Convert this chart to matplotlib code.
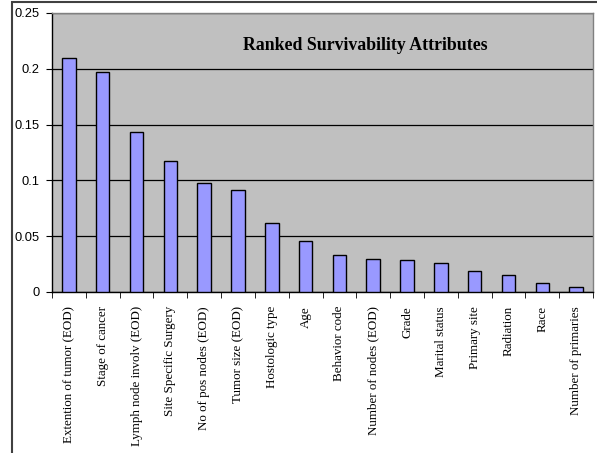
import numpy as np
import matplotlib
matplotlib.use("Agg")
import matplotlib.pyplot as plt
from matplotlib.patches import Rectangle
from matplotlib.ticker import FixedLocator

attributes = ["Extention of tumor (EOD)", "Stage of cancer", "Lymph node involv (EOD)",
              "Site Specific Surgery", "No of pos nodes (EOD)", "Tumor size (EOD)",
              "Hostologic type", "Age", "Behavior code", "Number of nodes (EOD)",
              "Grade", "Marital status", "Primary site", "Radiation", "Race",
              "Number of primaries"]
scores = [0.210, 0.197, 0.143, 0.117, 0.0975, 0.0918, 0.0615, 0.0455,
          0.0332, 0.0296, 0.0284, 0.0257, 0.0191, 0.0152, 0.0083, 0.0042]
yticks = [0, 0.05, 0.1, 0.15, 0.2, 0.25]
yticklabels = ["0", "0.05", "0.1", "0.15", "0.2", "0.25"]
title = "Ranked Survivability Attributes"


def main():
    fig = plt.figure(figsize=(5.97, 4.53), dpi=100)
    W, H = 597, 453

    # outer chart frame (only left and top visible in the crop)
    fig.patches.append(Rectangle((12 / W, -0.1), 1.2, 1 - 1.5 / H + 0.1,
                                 transform=fig.transFigure, fill=False,
                                 edgecolor="#404040", linewidth=1.5))

    ax = fig.add_axes([52 / W, (H - 292) / H, (593 - 52) / W, (292 - 13) / H])
    ax.set_facecolor("#C0C0C0")

    x = np.arange(len(scores))
    ax.bar(x, scores, width=0.4, color="#9999FF", edgecolor="black", linewidth=1.0, zorder=3)

    ax.set_xlim(-0.5, len(scores) - 0.5)
    ax.set_ylim(0, 0.25)
    ax.set_yticks(yticks)
    ax.set_yticklabels(yticklabels, fontfamily="Liberation Sans", fontsize=9.3)
    ax.grid(axis="y", color="black", linewidth=0.9, zorder=1)
    ax.set_axisbelow(True)

    ax.set_xticks(x)
    ax.set_xticklabels(attributes, rotation=90, fontfamily="Liberation Serif", fontsize=9.4,
                       va="top", ha="center")
    ax.tick_params(axis="x", which="major", length=0, pad=10)
    ax.xaxis.set_minor_locator(FixedLocator(np.arange(-0.5, len(scores), 1.0)))
    ax.tick_params(axis="x", which="minor", length=4, direction="out", color="black")
    ax.tick_params(axis="y", length=4, direction="out", pad=5, color="black")

    for side in ["left", "bottom"]:
        ax.spines[side].set_color("black")
        ax.spines[side].set_linewidth(1.0)
    for side in ["top", "right"]:
        ax.spines[side].set_color("#808080")
        ax.spines[side].set_linewidth(1.0)

    ax.text(0.5795, 0.885, title, transform=ax.transAxes, ha="center", va="center",
            fontfamily="Liberation Serif", fontweight="bold", fontsize=12.8)

    fig.savefig("out.png", dpi=100)


if __name__ == "__main__":
    main()
